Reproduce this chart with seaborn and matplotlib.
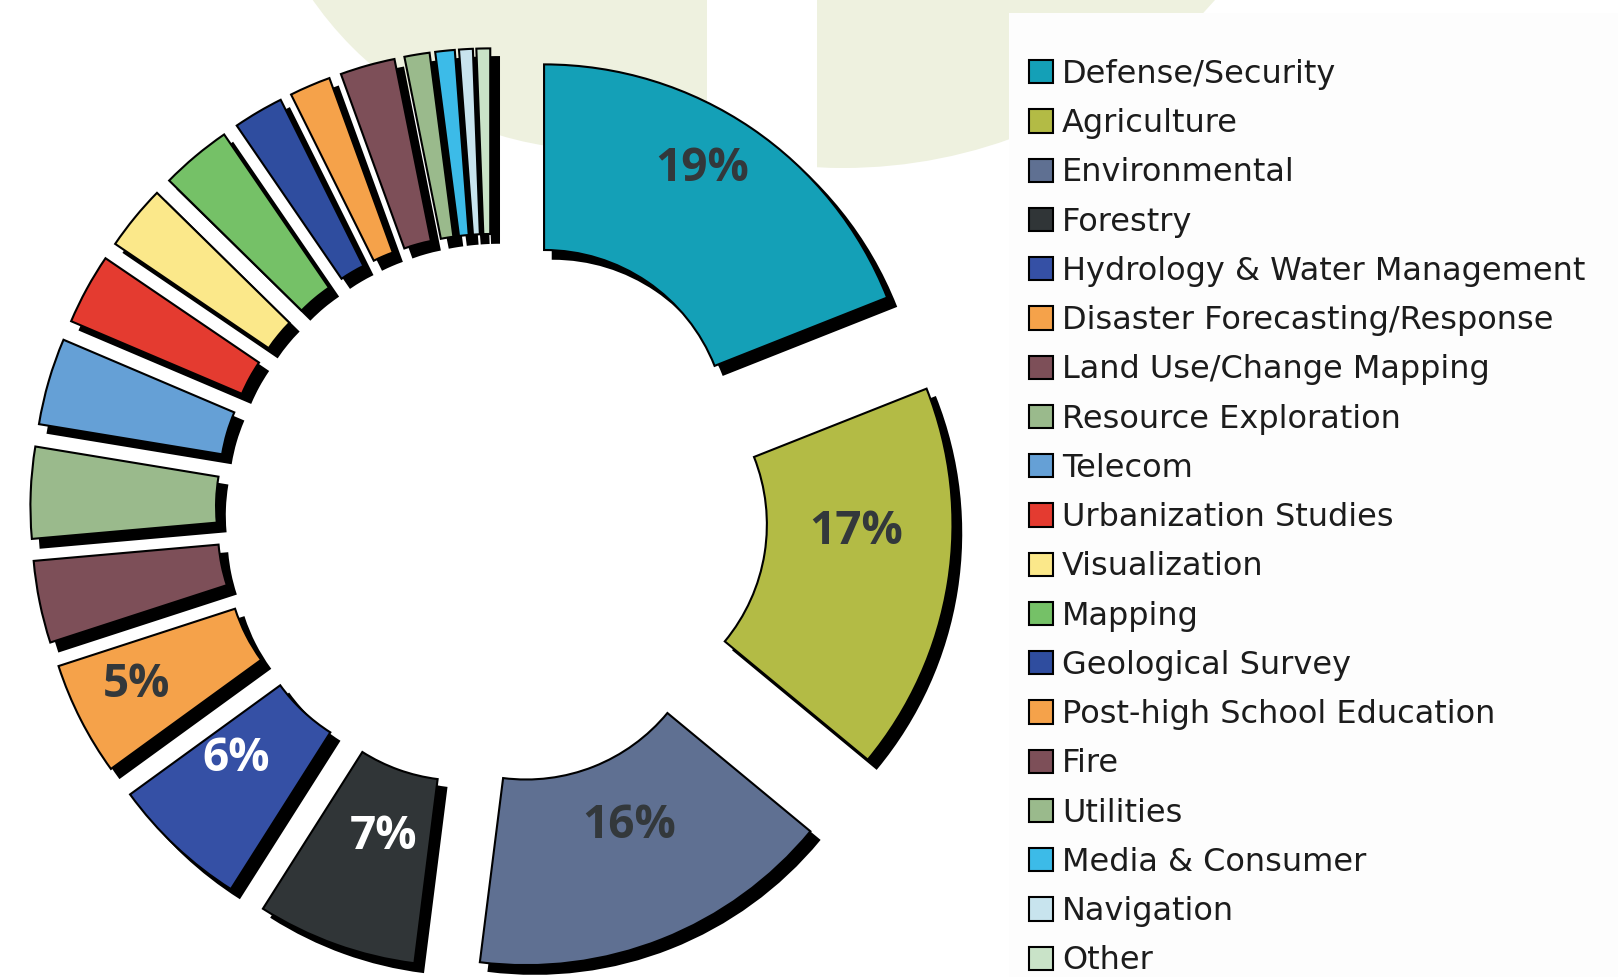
import numpy as np
import matplotlib
matplotlib.use("Agg")
import matplotlib.pyplot as plt
from matplotlib.patches import Circle, Rectangle
import seaborn as sns

# ---- data -------------------------------------------------------------
categories = [
    "Defense/Security", "Agriculture", "Environmental", "Forestry",
    "Hydrology & Water Management", "Disaster Forecasting/Response",
    "Land Use/Change Mapping", "Resource Exploration", "Telecom",
    "Urbanization Studies", "Visualization", "Mapping", "Geological Survey",
    "Post-high School Education", "Fire", "Utilities", "Media & Consumer",
    "Navigation", "Other",
]
shares = [19, 17, 16, 7, 6, 5, 3.6, 4.0, 3.8, 3.1, 2.85, 3.1, 2.2, 1.8,
          2.4, 1.1, 0.85, 0.6, 0.6]
labelled = categories[:6]

colors = [
    "#14a0b7", "#b3bb45", "#5f7092", "#303537", "#3550a5", "#f5a24a",
    "#7d4f58", "#9aba8c", "#65a0d6", "#e43b30", "#fbe88a", "#75c167",
    "#2f4d9f", "#f5a24a", "#7d4f58", "#9aba8c", "#3cbbe8", "#c8e4ee",
    "#c9e3c8",
]

# label styling: (radius fraction, angular nudge in degrees, text colour)
label_style = {
    "Defense/Security": (0.843, 3.75, "#33383b"),
    "Agriculture": (0.740, 8.2, "#33383b"),
    "Environmental": (0.674, 2.95, "#33383b"),
    "Forestry": (0.674, 1.8, "white"),
    "Hydrology & Water Management": (0.710, -4.0, "white"),
    "Disaster Forecasting/Response": (0.819, -1.7, "#33383b"),
}

# ---- figure -----------------------------------------------------------
sns.set_theme(style="white")
plt.rcParams["font.family"] = ["DejaVu Sans"]

W, H, DPI = 1618, 977, 100
fig = plt.figure(figsize=(W / DPI, H / DPI), dpi=DPI)
fig.patch.set_facecolor("white")

# background decoration in pixel space
bg = fig.add_axes([0, 0, 1, 1], zorder=0)
bg.set_xlim(0, W)
bg.set_ylim(H, 0)
bg.axis("off")
pale = "#eef1df"
left_clip = Rectangle((0, -1000), 707, 2000, transform=bg.transData)
blob1 = Circle((600, -200), 350, facecolor=pale, edgecolor="none")
bg.add_patch(blob1)
blob1.set_clip_path(left_clip)
right_clip = Rectangle((817, -1000), 2000, 2000, transform=bg.transData)
blob2 = Circle((843, -328), 496, facecolor=pale, edgecolor="none")
bg.add_patch(blob2)
blob2.set_clip_path(right_clip)
bg.add_patch(Rectangle((1009, 13), W, H, facecolor="#fdfdfd", edgecolor="none"))

# donut
ax = fig.add_axes([0, 0, 1, 1], zorder=1)
ax.patch.set_alpha(0)
cx, cy, rpx = 492, 510, 369
wedges, _ = ax.pie(
    shares,
    colors=sns.color_palette(colors),
    startangle=90,
    counterclock=False,
    explode=[0.251] * len(shares),
    wedgeprops=dict(width=0.503, edgecolor="black", linewidth=1.5),
    shadow={"ox": 0.017, "oy": -0.017, "shade": 1.0, "alpha": 1.0},
)
ax.set_xlim(-cx / rpx, (W - cx) / rpx)
ax.set_ylim((cy - H) / rpx, cy / rpx)
ax.set_aspect("auto")
ax.axis("off")

for w, name, val in zip(wedges, categories, shares):
    if name not in labelled:
        continue
    frac, nudge, tcol = label_style[name]
    ang = np.deg2rad((w.theta1 + w.theta2) / 2 + nudge)
    x0, y0 = w.center
    ax.annotate(f"{val:.0f}%",
                xy=(x0 + frac * np.cos(ang), y0 + frac * np.sin(ang)),
                xytext=(0, -2.2), textcoords="offset points",
                ha="center", va="center", fontsize=33, fontweight="bold",
                family=["Open Sans", "DejaVu Sans"], color=tcol, zorder=5)

leg = fig.legend(
    wedges, categories,
    loc="upper left", bbox_to_anchor=(1029 / W, 1 - 59 / H),
    frameon=False, fontsize=23, handlelength=0.74, handleheight=0.74,
    handletextpad=0.3, labelspacing=0.571, borderpad=0, borderaxespad=0,
)
for t in leg.get_texts():
    t.set_color("#1c1c1c")

fig.savefig("out.png", dpi=DPI)
